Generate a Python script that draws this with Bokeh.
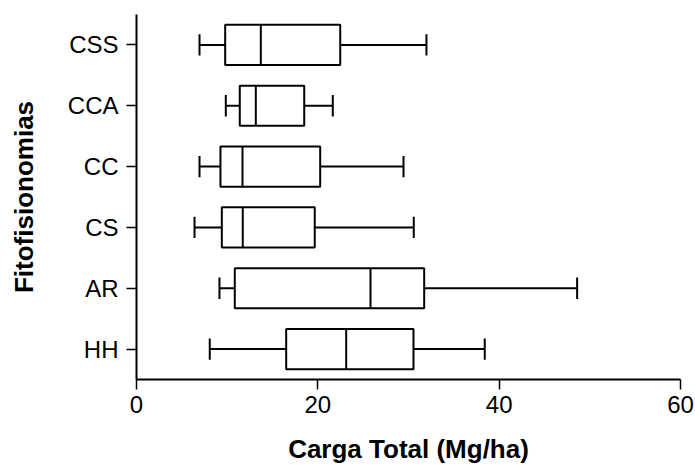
from bokeh.plotting import figure
from bokeh.models import ColumnDataSource, FactorRange, Range1d, FixedTicker
from bokeh.transform import dodge
from bokeh.embed import file_html
from bokeh.resources import INLINE

categories = ["CSS", "CCA", "CC", "CS", "AR", "HH"]
lower_whisker = [6.95, 9.85, 6.95, 6.40, 9.15, 8.08]
q1 = [9.78, 11.39, 9.26, 9.41, 10.84, 16.51]
median = [13.71, 13.16, 11.69, 11.72, 25.81, 23.13]
q3 = [22.47, 18.50, 20.26, 19.66, 31.73, 30.55]
upper_whisker = [31.98, 21.65, 29.45, 30.58, 48.6, 38.41]
x_ticks = [0, 20, 40, 60]
x_title = "Carga Total (Mg/ha)"
y_title = "Fitofisionomias"

src = ColumnDataSource(dict(cat=categories, lw=lower_whisker, q1=q1, med=median, q3=q3, uw=upper_whisker))

FONT = "Liberation Sans"
p = figure(y_range=FactorRange(factors=categories[::-1]), x_range=Range1d(0, 60),
           width=695, height=470, output_backend="svg", toolbar_location=None,
           min_border_left=136, min_border_right=15, min_border_top=14, min_border_bottom=91)
p.outline_line_color = None
p.xgrid.visible = False
p.ygrid.visible = False
p.background_fill_color = "white"
p.border_fill_color = "white"

BOX_H = 0.66
CAP_H = 0.35
LW = 2

# whiskers
p.segment(x0="lw", x1="q1", y0="cat", y1="cat", source=src, line_color="black", line_width=LW)
p.segment(x0="q3", x1="uw", y0="cat", y1="cat", source=src, line_color="black", line_width=LW)
# caps
p.segment(x0="lw", x1="lw", y0=dodge("cat", -CAP_H / 2, range=p.y_range), y1=dodge("cat", CAP_H / 2, range=p.y_range),
          source=src, line_color="black", line_width=LW)
p.segment(x0="uw", x1="uw", y0=dodge("cat", -CAP_H / 2, range=p.y_range), y1=dodge("cat", CAP_H / 2, range=p.y_range),
          source=src, line_color="black", line_width=LW)
# boxes
p.hbar(y="cat", left="q1", right="q3", height=BOX_H, source=src, fill_color="white",
       line_color="black", line_width=LW)
# medians
p.segment(x0="med", x1="med", y0=dodge("cat", -BOX_H / 2, range=p.y_range), y1=dodge("cat", BOX_H / 2, range=p.y_range),
          source=src, line_color="black", line_width=LW)

for ax in (p.xaxis[0], p.yaxis[0]):
    ax.axis_line_color = "black"
    ax.axis_line_width = 2
    ax.major_tick_line_color = "black"
    ax.major_tick_line_width = 1.5
    ax.major_tick_out = 10
    ax.major_tick_in = 0
    ax.minor_tick_line_color = None
    ax.major_label_text_font = FONT
    ax.major_label_text_font_size = "24px"
    ax.major_label_text_color = "black"
    ax.axis_label_text_font = FONT
    ax.axis_label_text_font_size = "26px"
    ax.axis_label_text_font_style = "bold"
    ax.axis_label_text_color = "black"

p.xaxis.ticker = FixedTicker(ticks=x_ticks)
p.xaxis.axis_label = x_title
p.xaxis.major_label_standoff = 6
p.xaxis.axis_label_standoff = 18
p.yaxis.axis_label = y_title
p.yaxis.major_label_standoff = 8
p.yaxis.axis_label_standoff = 26

open("out.html", "w").write(file_html(p, INLINE))
